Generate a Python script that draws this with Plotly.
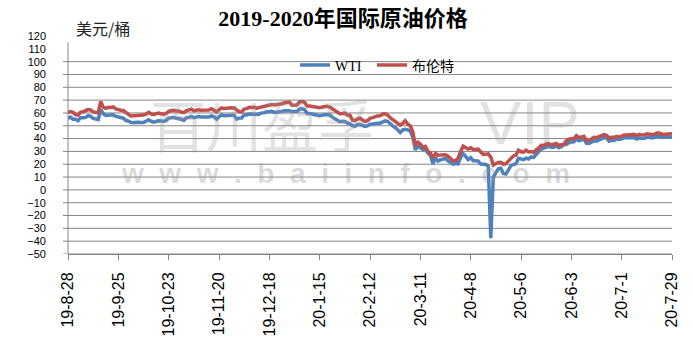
import pandas as pd
import plotly.graph_objects as go

# ---------------- data ----------------
dates = pd.bdate_range("2019-08-28", "2020-07-29").strftime("%Y-%m-%d").tolist()

wti = [
    55.78, 56.71, 55.10, 55.10, 53.94, 56.26, 56.30, 56.52, 57.85, 57.40,
    55.75, 55.09, 54.85, 62.90, 59.34, 58.11, 58.13, 58.09, 58.64, 57.29,
    56.49, 56.41, 55.91, 54.07, 53.62, 52.64, 52.45, 52.81, 52.75, 52.63,
    52.59, 53.55, 54.70, 53.59, 52.81, 53.36, 53.93, 53.78, 53.31, 54.16,
    55.97, 56.23, 56.66, 55.81, 55.54, 55.06, 54.18, 56.20, 56.54, 57.23,
    56.35, 57.15, 57.24, 56.86, 56.80, 57.12, 56.77, 57.72, 57.05, 55.21,
    57.11, 58.58, 57.77, 58.01, 58.41, 58.11, 58.11, 55.17, 55.96, 56.10,
    58.43, 58.43, 59.20, 59.02, 59.24, 58.76, 59.18, 60.07, 60.21, 60.94,
    60.93, 61.22, 60.44, 60.52, 61.11, 61.11, 61.68, 61.72, 61.68, 61.06,
    61.06, 61.18, 63.05, 63.27, 62.70, 59.61, 59.56, 59.04, 58.08, 58.23,
    57.81, 58.52, 58.54, 58.54, 58.38, 56.74, 55.59, 54.19, 53.14, 53.48,
    53.33, 52.14, 51.56, 50.11, 49.61, 50.75, 50.95, 50.32, 49.57, 49.94,
    51.17, 51.42, 52.05, 52.05, 52.05, 53.29, 53.78, 53.38, 51.43, 49.90,
    48.73, 47.09, 44.76, 46.75, 47.18, 46.78, 45.90, 41.28, 31.13, 34.36,
    32.98, 31.50, 31.73, 28.70, 26.95, 20.37, 25.22, 22.43, 23.36, 24.01,
    24.49, 22.60, 21.51, 20.09, 20.48, 20.31, 25.32, 28.34, 26.08, 23.63,
    25.09, 22.76, 22.76, 22.41, 20.11, 19.87, 19.87, 18.27, -37.63, 10.01,
    13.78, 16.50, 16.94, 12.78, 12.34, 15.06, 18.84, 19.78, 20.39, 24.56,
    23.99, 23.55, 24.74, 24.14, 25.78, 25.29, 27.56, 29.43, 31.82, 32.50,
    33.49, 33.92, 33.25, 33.25, 34.35, 32.81, 33.71, 35.49, 35.44, 36.81,
    37.29, 37.41, 39.55, 38.19, 38.94, 39.60, 36.34, 36.26, 37.12, 38.38,
    37.96, 38.84, 39.75, 40.73, 40.37, 38.01, 38.72, 38.49, 39.70, 39.27,
    39.82, 40.65, 40.65, 40.63, 40.62, 40.90, 39.62, 40.55, 40.10, 40.29,
    41.20, 40.75, 40.59, 40.81, 41.96, 41.90, 41.07, 41.29, 41.60, 41.04,
    41.27,
]

brent = [
    60.49, 61.08, 60.43, 58.66, 58.26, 60.70, 60.95, 61.54, 62.59, 62.38,
    60.81, 60.38, 60.22, 69.02, 64.55, 63.60, 64.40, 64.28, 64.77, 63.10,
    62.39, 62.08, 61.91, 60.78, 58.89, 57.69, 57.71, 58.37, 58.35, 58.24,
    58.32, 59.10, 60.51, 59.35, 58.74, 59.42, 59.91, 59.42, 58.96, 59.70,
    61.17, 61.67, 62.02, 61.57, 61.59, 60.61, 60.23, 61.69, 62.13, 62.96,
    61.74, 62.29, 62.51, 62.18, 62.06, 62.37, 62.28, 63.30, 62.44, 60.91,
    62.40, 63.97, 63.39, 63.65, 64.27, 64.06, 63.87, 62.43, 60.92, 60.82,
    62.99, 63.39, 64.39, 64.25, 64.34, 63.72, 64.20, 65.22, 65.34, 66.10,
    66.17, 66.54, 66.14, 66.39, 67.20, 67.20, 67.92, 68.16, 68.44, 66.00,
    66.00, 66.25, 68.60, 68.91, 68.27, 65.44, 65.37, 64.98, 64.20, 64.49,
    64.00, 64.62, 64.85, 65.20, 64.59, 63.21, 62.04, 60.69, 59.32, 59.51,
    59.81, 58.29, 58.16, 54.45, 53.96, 55.28, 55.93, 54.47, 53.27, 54.01,
    55.79, 56.34, 57.32, 57.67, 57.75, 59.12, 59.31, 58.50, 56.30, 54.95,
    53.43, 52.18, 50.52, 51.90, 53.86, 51.13, 49.99, 45.27, 34.36, 37.22,
    35.79, 33.22, 33.85, 30.05, 28.73, 24.88, 28.47, 26.98, 27.03, 27.15,
    27.39, 26.34, 24.93, 22.76, 22.74, 24.74, 29.94, 34.11, 33.05, 31.87,
    32.84, 31.48, 31.48, 31.74, 29.60, 27.69, 27.82, 28.08, 25.57, 19.33,
    20.37, 21.33, 21.44, 19.99, 20.46, 22.54, 25.27, 26.44, 27.20, 30.97,
    29.72, 29.46, 30.97, 29.63, 29.98, 29.19, 31.13, 32.50, 34.81, 34.65,
    35.75, 36.06, 35.13, 35.53, 36.17, 34.74, 35.29, 35.33, 38.32, 39.57,
    39.79, 39.99, 42.30, 40.80, 41.18, 41.73, 38.55, 38.73, 39.72, 40.96,
    40.71, 41.51, 42.19, 43.08, 42.63, 40.31, 41.05, 41.02, 41.71, 41.15,
    42.03, 42.80, 42.80, 43.10, 43.08, 43.29, 42.35, 43.24, 42.72, 42.90,
    43.79, 43.37, 43.14, 43.28, 44.32, 44.29, 43.31, 43.34, 43.41, 43.22,
    43.75,
]

tick_labels = ["19-8-28", "19-9-25", "19-10-23", "19-11-20", "19-12-18", "20-1-15",
               "20-2-12", "20-3-11", "20-4-8", "20-5-6", "20-6-3", "20-7-1", "20-7-29"]
y_ticks = list(range(-50, 121, 10))
grid_vals = list(range(-50, 101, 10))

series_names = ["WTI", "布伦特"]
title_text = "2019-2020年国际原油价格"
unit_text = "美元/桶"

# ---------------- figure ----------------
W, H = 693, 348
L, R, T, B = 68, 21, 36, 90
plot_w = W - L - R
plot_h = H - T - B

fig = go.Figure()
fig.add_trace(go.Scatter(x=dates, y=wti, mode="lines", name=series_names[0], legend="legend",
                         line=dict(color="#4F81BD", width=3.5)))
fig.add_trace(go.Scatter(x=dates, y=brent, mode="lines", name=series_names[1], legend="legend2",
                         line=dict(color="#C0504D", width=3.5)))

shapes = []
for v in grid_vals:
    shapes.append(dict(type="line", xref="paper", yref="y", x0=-5 / plot_w, x1=1,
                       y0=v, y1=v, line=dict(color="#868686", width=1), layer="below"))
shapes.append(dict(type="line", xref="paper", yref="y", x0=0, x1=0, y0=-50, y1=115,
                   line=dict(color="#868686", width=1), layer="below"))

wm_color = "rgba(150,150,150,0.28)"
annotations = [
    dict(text=unit_text, xref="paper", yref="paper", x=(74 - L) / plot_w, y=(H - B - 28) / plot_h,
         xanchor="left", yanchor="middle", showarrow=False,
         font=dict(family="Noto Sans CJK SC", size=16, color="#222222")),
    dict(text="百川盈孚", xref="paper", yref="paper", x=(262 - L) / plot_w, y=(H - B - 124) / plot_h,
         xanchor="center", yanchor="middle", showarrow=False,
         font=dict(family="Noto Sans CJK SC", size=56, color=wm_color)),
    dict(text="VIP", xref="paper", yref="paper", x=(530 - L) / plot_w, y=(H - B - 124) / plot_h,
         xanchor="center", yanchor="middle", showarrow=False,
         font=dict(family="Liberation Sans", size=62, color=wm_color)),
    dict(text="\u00a0\u00a0".join(list("www.baiinfo.com")), xref="paper", yref="paper",
         x=(345 - L) / plot_w, y=(H - B - 176) / plot_h,
         xanchor="center", yanchor="middle", showarrow=False,
         font=dict(family="Liberation Sans", size=28, color="rgba(150,150,150,0.35)", weight="bold")),
]

legend_font = dict(family="Liberation Serif, Noto Sans CJK SC", size=14, color="black")
leg_y = (H - B - 66) / plot_h

fig.update_layout(
    width=W, height=H,
    margin=dict(l=L, r=R, t=T, b=B),
    paper_bgcolor="white", plot_bgcolor="white",
    title=dict(text="<b>" + title_text + "</b>", x=343 / W, xanchor="center",
               y=1 - 18 / H, yanchor="middle", yref="container",
               font=dict(family="Liberation Serif, Noto Sans CJK SC", size=22, color="black")),
    showlegend=True,
    legend=dict(orientation="h", x=(295 - L) / plot_w, xanchor="left",
                y=leg_y, yanchor="middle", bgcolor="rgba(0,0,0,0)", font=legend_font),
    legend2=dict(orientation="h", x=(372 - L) / plot_w, xanchor="left",
                 y=leg_y, yanchor="middle", bgcolor="rgba(0,0,0,0)", font=legend_font),
    xaxis=dict(type="category", range=[0, len(dates) - 1], tickmode="array",
               tickvals=dates[::20], ticktext=tick_labels, tickangle=-90,
               showline=True, linecolor="#868686", linewidth=1,
               ticks="outside", ticklen=5, tickcolor="#868686",
               showgrid=False, zeroline=False, ticklabelstandoff=6,
               tickfont=dict(family="Liberation Sans", size=16, color="black")),
    yaxis=dict(range=[-50, 120], tickmode="array", tickvals=y_ticks,
               showgrid=False, zeroline=False, showline=False, ticks="",
               ticklabelstandoff=21,
               tickfont=dict(family="Liberation Sans", size=11, color="black")),
    shapes=shapes,
    annotations=annotations,
)

fig.write_html("out.html")
